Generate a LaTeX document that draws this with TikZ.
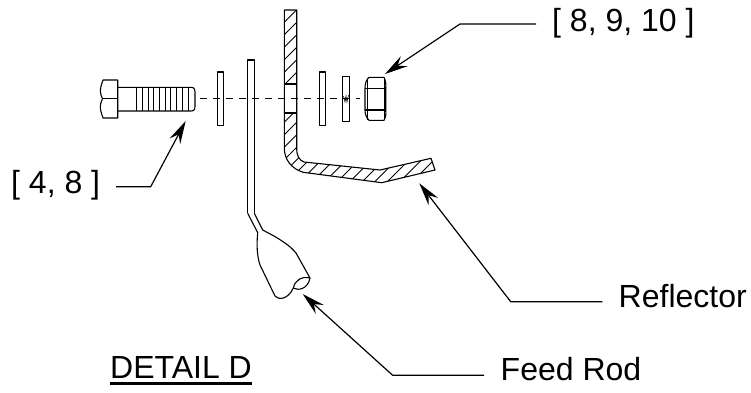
\documentclass[tikz,border=0pt]{standalone}
\usepackage{fontspec}
\setmainfont{Liberation Sans}
\usetikzlibrary{arrows.meta}
\tikzset{
  part/.style={line width=1.1pt,black,line join=round},
  thinpart/.style={line width=0.9pt,black},
  hatchline/.style={line width=0.9pt,black},
  axisline/.style={line width=0.9pt,black,dash pattern=on 7pt off 6pt},
  leader/.style={line width=1.2pt,black,-{Stealth[length=23pt,width=12pt,inset=8pt]}},
  lbl/.style={inner sep=0pt,anchor=base west,font=\fontsize{32}{36}\selectfont,text=black}
}
\begin{document}
\begin{tikzpicture}[x=1pt,y=-1pt]
\useasboundingbox (0,0) rectangle (751,392);
% axis
\draw[axisline] (200,98.7) -- (360,98.7);
% bolt
\draw[part] (117.7,80) -- (103,80) .. controls (99.5,90) and (99.5,92) .. (102.5,98.7) .. controls (99.5,105) and (99.5,108) .. (103,118) -- (117.7,118) -- cycle;
\draw[part] (102.5,98.7) -- (117.7,98.7);
\draw[part] (117.7,87.3) -- (191,87.3) .. controls (195,87.3) and (195,90) .. (195,94) -- (195,104) .. controls (195,109) and (195,111) .. (191,111) -- (117.7,111);
\foreach \tx in {136.7,142.3,148,153.7,159.3,165,170.7,176.7,182.7,188.3}
  \draw[thinpart] (\tx,87.3) -- (\tx,111);
% washers
\draw[part] (217.3,72) rectangle (223.3,125.3);
\draw[part] (319.3,72) rectangle (325.7,125.3);
\draw[part] (342.3,76.7) rectangle (349.7,121.3);
\draw[line width=0.6pt] (343.5,96) -- (345,102) -- (346,96) -- (347,102) -- (348.5,95);
% nut
\draw[part] (369,77.3) -- (384,77.3) .. controls (386,82) and (386,84) .. (385.7,88.3) -- (385.7,110) .. controls (386,114) and (386,117) .. (384,120.3) -- (369,120.3) .. controls (366,117) and (365,114) .. (365,110) -- (365,88.3) .. controls (365,84) and (366,80) .. (369,77.3) -- cycle;
\draw[part] (365,88.3) -- (385.7,88.3) (365,110) -- (385.7,110);
\draw[thinpart] (367.5,78) -- (367.5,119.5) (384,78) -- (384,119.5);
% reflector hatching
\begin{scope}
\clip (284.3,10) -- (296.7,10) -- (296.7,84) -- (284.3,84) -- cycle
      (284.3,113) -- (296.7,113) -- (296.7,148) .. controls (296.7,156) and (299,160) .. (304,162)
      -- (380,170) -- (431,158.3) -- (435,170) -- (381.7,182.7) -- (303.3,172.3)
      .. controls (292,169) and (284.3,160) .. (284.3,148) -- cycle;
\foreach \c in {294,306.5,...,620}
  \draw[hatchline] (\c-300,300) -- (\c,0);
\end{scope}
% reflector outline
\draw[part] (296.7,84) -- (296.7,10) -- (284.3,10) -- (284.3,148)
  .. controls (284.3,160) and (292,169) .. (303.3,172.3)
  -- (381.7,182.7) -- (435,170) -- (431,158.3) -- (380,170) -- (304,162)
  .. controls (299,160) and (296.7,156) .. (296.7,148) -- cycle;
\draw[part] (284.3,84) -- (296.7,84) (284.3,113) -- (296.7,113);
% feed rod
\draw[part] (247.7,213.3) -- (247.7,60) -- (254.3,60) -- (254.3,213.3);
\draw[part] (247.7,213.3) -- (257.7,232.7) .. controls (256.5,245) and (257,256) .. (260,265)
  -- (275,296) .. controls (278,300) and (288,300) .. (293.3,288)
  .. controls (295,280) and (302,276) .. (310,278)
  -- (296,253) .. controls (290,246) and (285,243) .. (283,241.7)
  .. controls (275,236) and (268,233) .. (262.7,230) -- (254.3,213.3);
\draw[part] (293.3,288) .. controls (298,291) and (308,289) .. (310,278);
% labels
\node[lbl] (lb1) at (552,31.7) {[ 8, 9, 10 ]};
\node[lbl] (lb2) at (11,193.3) {[ 4, 8 ]};
\node[lbl] (lb3) at (618.5,307.7) {Reflector};
\node[lbl] (lb4) at (500.5,380.7) {Feed Rod};
\node[lbl] (lb5) at (110,378.3) {DETAIL D};
\draw[line width=2.4pt] ([yshift=-5pt]lb5.base west) -- ([yshift=-5pt]lb5.base east);
% leaders
\coordinate (a1) at (536,24); \coordinate (k1) at (460,24); \coordinate (t1) at (385,74);
\coordinate (a2) at (116,186.7); \coordinate (k2) at (150.7,186.7); \coordinate (t2) at (185.7,121);
\coordinate (a3) at (602.3,301.7); \coordinate (k3) at (510.7,301.7); \coordinate (t3) at (419.3,183.3);
\coordinate (a4) at (484,375.3); \coordinate (k4) at (392.7,375.3); \coordinate (t4) at (302.7,294);
\draw[leader] (a1) -- (k1) -- (t1);
\draw[leader] (a2) -- (k2) -- (t2);
\draw[leader] (a3) -- (k3) -- (t3);
\draw[leader] (a4) -- (k4) -- (t4);
\end{tikzpicture}
\end{document}
